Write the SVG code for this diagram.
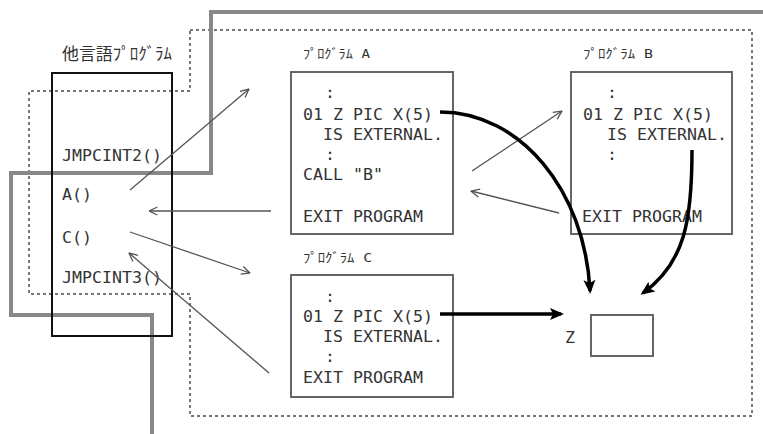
<svg xmlns="http://www.w3.org/2000/svg" width="763" height="434" viewBox="0 0 763 434">
<style>
.t{font-family:"DejaVu Sans Mono","Liberation Mono","Noto Sans CJK JP",monospace;font-size:16.6px;fill:#333}
.h{font-family:"DejaVu Sans Mono","Noto Sans CJK JP",monospace;font-size:13px;fill:#333}
.box{fill:#fff;stroke:#666;stroke-width:2}
.thin{fill:none;stroke:#555;stroke-width:1.3}
.thick{fill:none;stroke:#000;stroke-width:3.5}
</style>
<defs>
<marker id="ah" markerUnits="userSpaceOnUse" viewBox="0 0 10 10" refX="9.5" refY="5" markerWidth="10" markerHeight="10" orient="auto">
<path d="M1,1 L9.5,5 L1,9" fill="none" stroke="#555" stroke-width="1.3"/>
</marker>
<marker id="bh" markerUnits="userSpaceOnUse" viewBox="0 0 14 14" refX="11" refY="7" markerWidth="14" markerHeight="14" orient="auto">
<path d="M0,1 L14,7 L0,13 L3,7 z" fill="#000"/>
</marker>
</defs>
<rect width="763" height="434" fill="#fff"/>
<polygon points="190,30 752,30 752,416 190,416 190,294 29,294 29,91 190,91" fill="none" stroke="#777" stroke-width="2" stroke-dasharray="3,3"/>
<polyline points="763,12 211,12 211,173 11,173 11,315 152,315 152,434" fill="none" stroke="#888" stroke-width="4"/>
<g id="other">
<text class="t" x="62" y="60" font-size="18" textLength="110" lengthAdjust="spacingAndGlyphs">他言語ﾌﾟﾛｸﾞﾗﾑ</text>
<rect x="52" y="73" width="120" height="263" fill="none" stroke="#111" stroke-width="2"/>
<text class="t" x="62" y="161">JMPCINT2()</text>
<text class="t" x="62" y="200">A()</text>
<text class="t" x="62" y="243">C()</text>
<text class="t" x="62" y="283">JMPCINT3()</text>
</g>
<g id="progA">
<text class="h" x="303" y="58" textLength="67" lengthAdjust="spacingAndGlyphs">ﾌﾟﾛｸﾞﾗﾑ A</text>
<rect class="box" x="291" y="72" width="162" height="162"/>
<text class="t" x="325" y="98">:</text>
<text class="t" x="303" y="120">01 Z PIC X(5)</text>
<text class="t" x="323" y="140">IS EXTERNAL.</text>
<text class="t" x="325" y="160">:</text>
<text class="t" x="303" y="180">CALL "B"</text>
<text class="t" x="303" y="222">EXIT PROGRAM</text>
</g>
<g id="progB">
<text class="h" x="583" y="58" textLength="70" lengthAdjust="spacingAndGlyphs">ﾌﾟﾛｸﾞﾗﾑ B</text>
<rect class="box" x="571" y="72" width="161" height="162"/>
<text class="t" x="607" y="98">:</text>
<text class="t" x="583" y="120">01 Z PIC X(5)</text>
<text class="t" x="607" y="140">IS EXTERNAL.</text>
<text class="t" x="607" y="160">:</text>
<text class="t" x="582" y="222">EXIT PROGRAM</text>
</g>
<g id="progC">
<text class="h" x="303" y="262" textLength="69" lengthAdjust="spacingAndGlyphs">ﾌﾟﾛｸﾞﾗﾑ C</text>
<rect class="box" x="291" y="275" width="162" height="122"/>
<text class="t" x="325" y="302">:</text>
<text class="t" x="303" y="322">01 Z PIC X(5)</text>
<text class="t" x="323" y="342">IS EXTERNAL.</text>
<text class="t" x="325" y="362">:</text>
<text class="t" x="303" y="383">EXIT PROGRAM</text>
</g>
<g id="Z">
<text class="t" x="565" y="343" font-size="15">Z</text>
<rect class="box" x="591" y="315" width="62" height="41"/>
</g>
<g id="connectors">
<line class="thin" x1="130" y1="190" x2="249" y2="89" marker-end="url(#ah)"/>
<line class="thin" x1="271" y1="211" x2="149" y2="211" marker-end="url(#ah)"/>
<line class="thin" x1="130" y1="232" x2="250" y2="273" marker-end="url(#ah)"/>
<line class="thin" x1="269" y1="373" x2="129" y2="253" marker-end="url(#ah)"/>
<line class="thin" x1="472" y1="171" x2="562" y2="111" marker-end="url(#ah)"/>
<line class="thin" x1="559" y1="213" x2="471" y2="191" marker-end="url(#ah)"/>
<path class="thick" d="M440,112 C520,112 585,190 590,291" marker-end="url(#bh)"/>
<path class="thick" d="M692,150 C692,220 685,263 643,293" marker-end="url(#bh)"/>
<path class="thick" d="M440,314 L561,314" marker-end="url(#bh)"/>
</g>
</svg>
